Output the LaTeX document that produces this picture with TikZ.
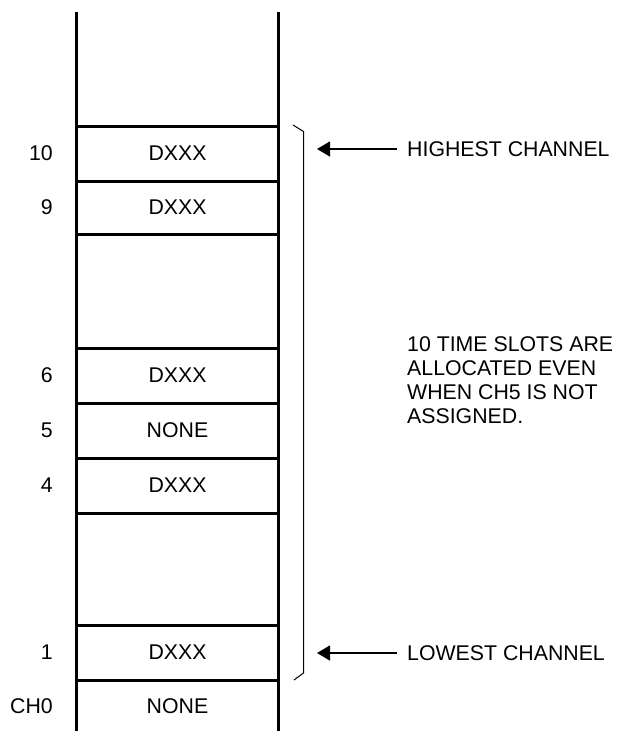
\documentclass[tikz,border=0pt]{standalone}
\usepackage{fontspec}
\setmainfont{Liberation Sans}
\usetikzlibrary{arrows.meta}
\begin{document}
\begin{tikzpicture}[x=1pt,y=-1pt,
  wall/.style={line width=3pt},
  rule/.style={line width=3pt},
  cell/.style={font=\fontsize{21.3}{24}\selectfont, anchor=center, inner sep=0pt},
  chlabel/.style={font=\fontsize{21.3}{24}\selectfont, anchor=east, inner sep=0pt},
  note/.style={font=\fontsize{21.3}{24}\selectfont, anchor=west, inner sep=0pt},
  pointer/.style={line width=1.4pt, -{Triangle[length=13pt,width=15pt]}},
  brace/.style={line width=1pt}]
\useasboundingbox (0,0) rectangle (616,731);
% columns
\draw[wall] (76.5,12) -- (76.5,731);
\draw[wall] (278.5,12) -- (278.5,731);
% row separators
\foreach \y in {126,181,234,348,403,458,513,625,680}
  \draw[rule] (76.5,\y) -- (278.5,\y);
% cell contents
\node[cell] (c10) at (177.5,153.5) {DXXX};
\node[cell] (c9)  at (177.5,207.5) {DXXX};
\node[cell] (c6)  at (177.5,375.5) {DXXX};
\node[cell] (c5)  at (177.5,430.5) {NONE};
\node[cell] (c4)  at (177.5,485.5) {DXXX};
\node[cell] (c1)  at (177.5,652.5) {DXXX};
\node[cell] (c0)  at (177.5,706)   {NONE};
% channel numbers
\node[chlabel] (l10) at (53,153.5) {10};
\node[chlabel] (l9)  at (53,207.5) {9};
\node[chlabel] (l6)  at (53,375.5) {6};
\node[chlabel] (l5)  at (53,430.5) {5};
\node[chlabel] (l4)  at (53,485.5) {4};
\node[chlabel] (l1)  at (53,652.5) {1};
\node[chlabel] (l0)  at (53,706)   {CH0};
% bracket
\coordinate (bt0) at (293,125);
\coordinate (bt1) at (303.5,131.5);
\coordinate (bb1) at (303.5,673);
\coordinate (bb0) at (294,680);
\draw[brace] (bt0) -- (bt1) -- (bb1) -- (bb0);
% pointers
\node[note] (hi) at (407,149) {HIGHEST CHANNEL};
\node[note] (lo) at (407,653) {LOWEST CHANNEL};
\coordinate (hitip) at (317,149);
\coordinate (lotip) at (317,653);
\draw[pointer, shorten <=10pt] (hi.west) -- (hitip);
\draw[pointer, shorten <=10pt] (lo.west) -- (lotip);
% note
\node[note, anchor=north west, align=left] (txt) at (407,336)
  {10 TIME SLOTS ARE\\ALLOCATED EVEN\\WHEN CH5 IS NOT\\ASSIGNED.};
\end{tikzpicture}
\end{document}
